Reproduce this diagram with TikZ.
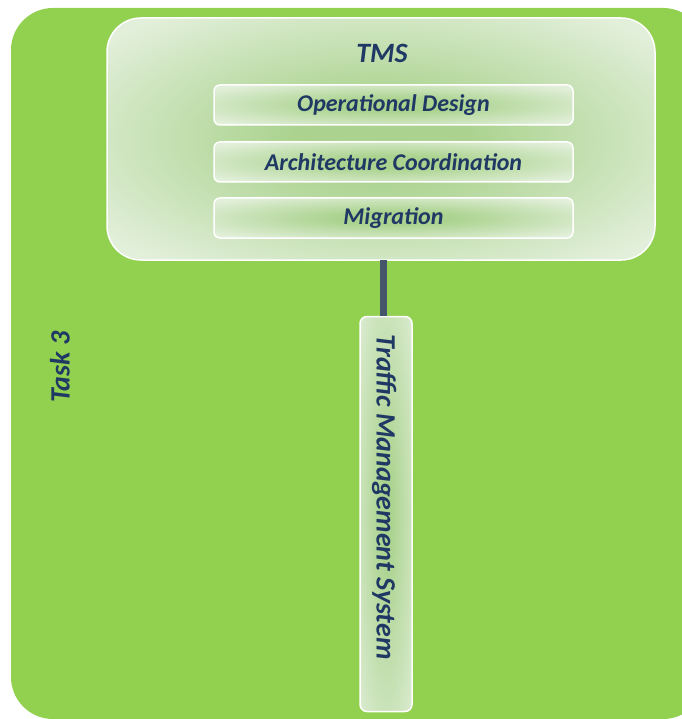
\documentclass[tikz,border=0pt]{standalone}
\usepackage{fontspec}
\setmainfont{Carlito}
\definecolor{bggreen}{HTML}{92D050}
\definecolor{txtblue}{HTML}{1F3864}
\definecolor{linkgray}{HTML}{44546A}
\definecolor{glowin}{HTML}{ABD38F}
\definecolor{glowout}{HTML}{E2EFDA}
\pgfdeclareradialshading{boxglow}{\pgfpoint{0bp}{0bp}}{color(0bp)=(glowin); color(8bp)=(glowin); color(32bp)=(glowout); color(50bp)=(glowout)}
\pgfdeclareradialshading{barglow}{\pgfpoint{0bp}{0bp}}{color(0bp)=(glowin); color(5bp)=(glowin); color(40bp)=(glowout); color(70bp)=(glowout)}
\tikzset{
  glowbox/.style={draw=white, line width=1.5pt, shading=boxglow, inner sep=0pt},
  lbl/.style={text=txtblue, font=\bfseries\itshape\fontsize{24}{28}\selectfont, inner sep=0pt},
  biglbl/.style={lbl, font=\bfseries\itshape\fontsize{28}{32}\selectfont},
}
\begin{document}
\begin{tikzpicture}[x=1pt,y=-1pt]
\useasboundingbox (0,0) rectangle (681,719);
\fill[bggreen, rounded corners=42pt] (11,8) rectangle (705,719);
\node[glowbox, rounded corners=34pt, minimum width=548pt, minimum height=242pt] (tms) at (381,139) {};
\node[biglbl] (tmstitle) at (382,53) {TMS};
\node[glowbox, rounded corners=6pt, minimum width=359pt, minimum height=40pt] (opd) at (393.5,105) {};
\node[lbl] at (opd.center) {Operational Design};
\node[glowbox, rounded corners=6pt, minimum width=359pt, minimum height=40pt] (arc) at (393.5,162) {};
\node[lbl] at (arc.center) {Architecture Coordination};
\node[glowbox, rounded corners=6pt, minimum width=359pt, minimum height=40pt] (mig) at (393.5,218) {};
\node[lbl] at (mig.center) {Migration};
\coordinate (linktop) at (383,260);
\node[draw=white, line width=1.5pt, shading=barglow, rounded corners=7pt, minimum width=52pt, minimum height=395pt, inner sep=0pt] (bar) at (386,514) {};
\draw[linkgray, line width=7pt] (linktop) -- (linktop |- bar.north);
\node[biglbl, rotate=-90] (bartext) at (384,497) {Traffic Management System};
\node[biglbl, rotate=90] (task) at (60,367) {Task 3};
\end{tikzpicture}
\end{document}
